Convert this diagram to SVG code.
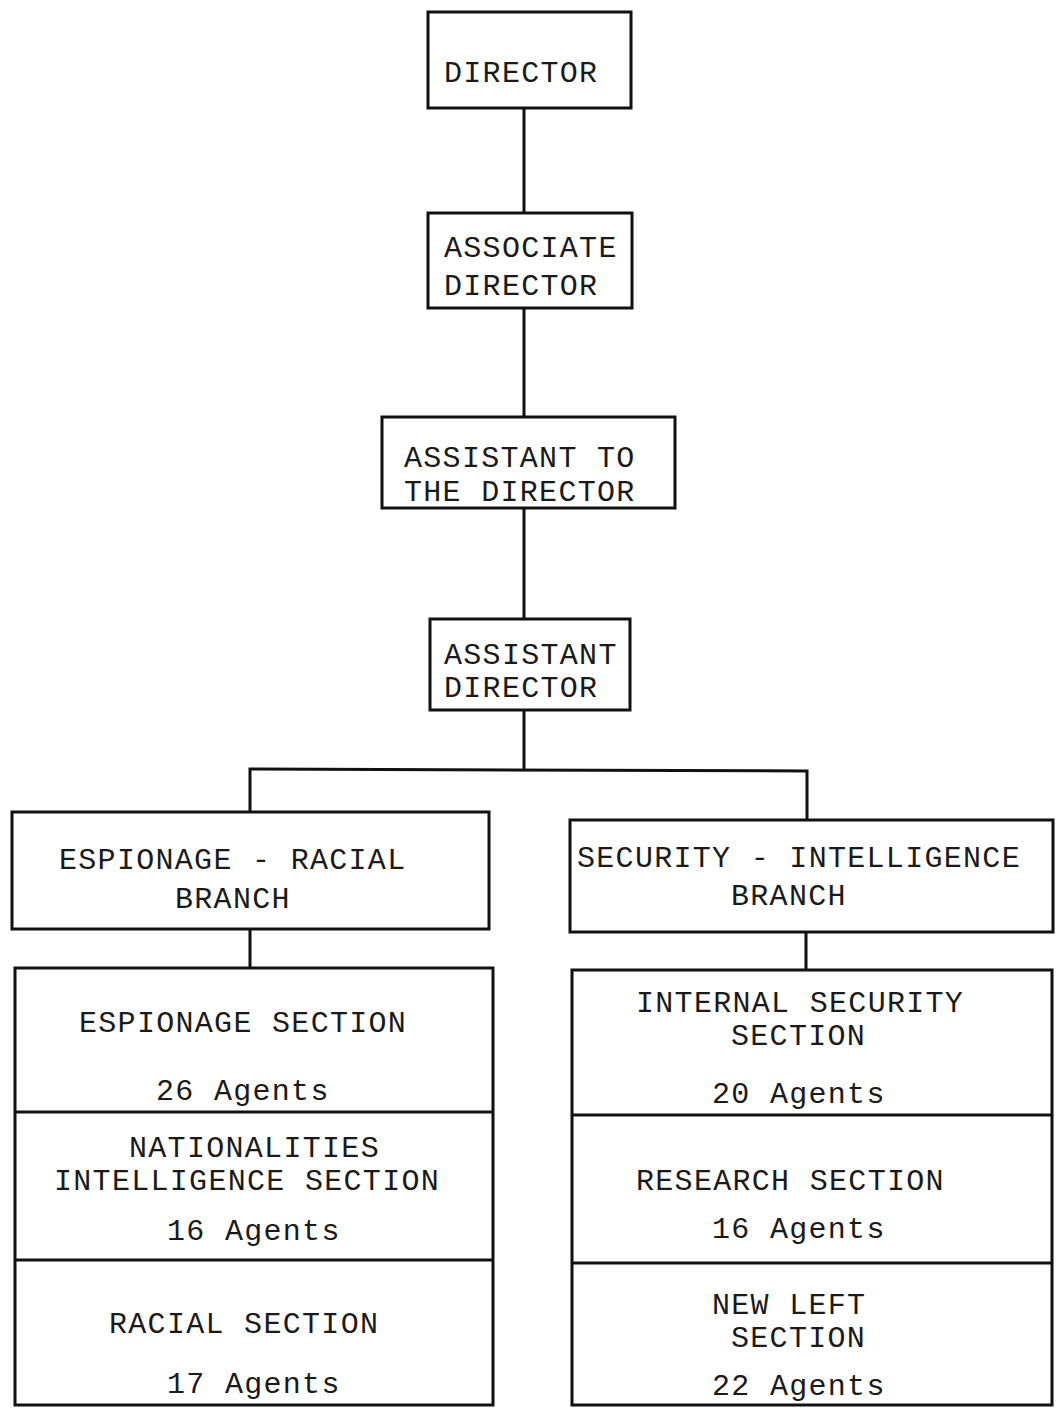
<svg xmlns="http://www.w3.org/2000/svg" width="1056" height="1408" viewBox="0 0 1056 1408">
<style>
.box{fill:none;stroke:#111;stroke-width:3}
.div{stroke:#111;stroke-width:3}
.con{fill:none;stroke:#111;stroke-width:3}
text{font-family:"Liberation Mono","Courier New",monospace;font-size:30px;letter-spacing:1.3px;fill:#1a1a1a}
</style>
<rect width="1056" height="1408" fill="#fff"/>
<g id="connectors">
<path class="con" d="M524 108V213M524 308V417M524 508V619M524 710V769"/>
<path class="con" d="M250 812V769L807 771V820"/>
<path class="con" d="M250 929V968M806 932V970"/>
</g>
<g id="director">
<rect class="box" x="428" y="12" width="203" height="96"/>
<text x="444" y="82">DIRECTOR</text>
</g>
<g id="associate-director">
<rect class="box" x="428" y="213" width="204" height="95"/>
<text x="444" y="257">ASSOCIATE</text>
<text x="444" y="295">DIRECTOR</text>
</g>
<g id="assistant-to-director">
<rect class="box" x="382" y="417" width="293" height="91"/>
<text x="404" y="467">ASSISTANT TO</text>
<text x="404" y="501">THE DIRECTOR</text>
</g>
<g id="assistant-director">
<rect class="box" x="430" y="619" width="200" height="91"/>
<text x="444" y="664">ASSISTANT</text>
<text x="444" y="697">DIRECTOR</text>
</g>
<g id="espionage-racial-branch">
<rect class="box" x="12" y="812" width="477" height="117"/>
<text x="59" y="869">ESPIONAGE - RACIAL</text>
<text x="175" y="908">BRANCH</text>
</g>
<g id="security-intelligence-branch">
<rect class="box" x="570" y="820" width="483" height="112"/>
<text x="577" y="867">SECURITY - INTELLIGENCE</text>
<text x="731" y="905">BRANCH</text>
</g>
<g id="espionage-racial-sections">
<rect class="box" x="15" y="968" width="478" height="437"/>
<line class="div" x1="15" y1="1112" x2="493" y2="1112"/>
<line class="div" x1="15" y1="1260" x2="493" y2="1260"/>
<g id="espionage-section">
<text x="79" y="1032">ESPIONAGE SECTION</text>
<text x="156" y="1100">26 Agents</text>
</g>
<g id="nationalities-section">
<text x="129" y="1157">NATIONALITIES</text>
<text x="54" y="1190">INTELLIGENCE SECTION</text>
<text x="167" y="1240">16 Agents</text>
</g>
<g id="racial-section">
<text x="109" y="1333">RACIAL SECTION</text>
<text x="167" y="1393">17 Agents</text>
</g>
</g>
<g id="security-intelligence-sections">
<rect class="box" x="572" y="970" width="480" height="435"/>
<line class="div" x1="572" y1="1115" x2="1052" y2="1115"/>
<line class="div" x1="572" y1="1263" x2="1052" y2="1263"/>
<g id="internal-security-section">
<text x="636" y="1012">INTERNAL SECURITY</text>
<text x="731" y="1045">SECTION</text>
<text x="712" y="1103">20 Agents</text>
</g>
<g id="research-section">
<text x="636" y="1190">RESEARCH SECTION</text>
<text x="712" y="1238">16 Agents</text>
</g>
<g id="new-left-section">
<text x="712" y="1314">NEW LEFT</text>
<text x="731" y="1347">SECTION</text>
<text x="712" y="1395">22 Agents</text>
</g>
</g>
</svg>
